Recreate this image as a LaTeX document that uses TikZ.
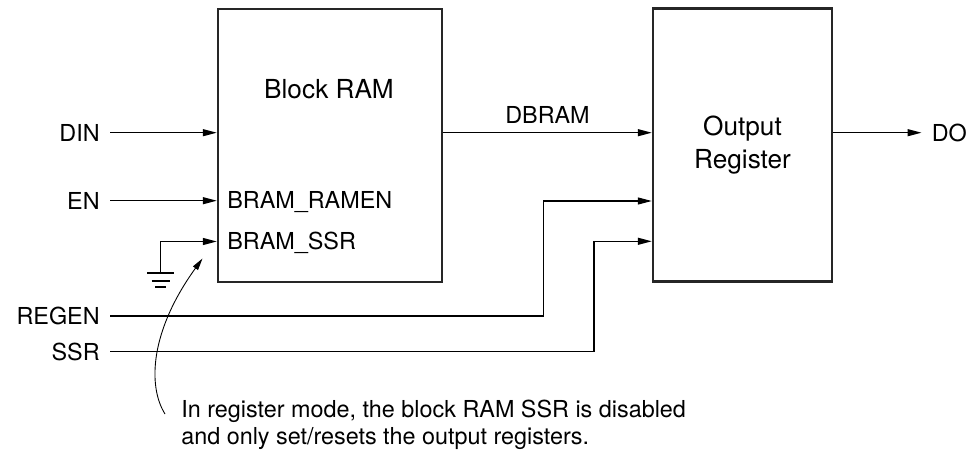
\documentclass[tikz,border=0pt]{standalone}
\usepackage{fontspec}
\setmainfont{TeX Gyre Heros}
\usetikzlibrary{arrows.meta, positioning, calc}

\begin{document}
\begin{tikzpicture}[
    txt/.style={font=\fontsize{13.3}{15.4}\selectfont},
    title/.style={font=\fontsize{14.9}{18.8}\selectfont},
    block/.style={rectangle, draw=black!85, line width=1.4pt, minimum width=4.48cm, minimum height=5.46cm, txt},
    pin/.style={txt, inner xsep=0.2cm, inner ysep=0pt},
    arrow/.style={-{Triangle[length=0.28cm, width=0.14cm]}, line width=0.7pt},
    note/.style={-{Triangle[length=0.24cm, width=0.12cm]}, line width=0.5pt},
]
\useasboundingbox (0,0) rectangle (19.58,9.12);

% Blocks
\node[block] (bram) at (6.6, 6.21) {};
\node[block, minimum width=3.58cm, align=center, title] (outreg) at (14.85, 6.22) {Output\\Register};
\node[title] (bramtitle) at (6.58, 7.34) {Block RAM};

% Port names inside the block RAM
\node[txt, anchor=base west, inner sep=0pt] (ramen) at (4.54, 4.94) {BRAM\_RAMEN};
\node[txt, anchor=base west, inner sep=0pt] (bramssr) at (4.54, 4.12) {BRAM\_SSR};

% Signals
\node[pin, anchor=east] (din) at (2.2, 6.466) {DIN};
\node[pin, anchor=east] (en) at (2.2, 5.106) {EN};
\node[pin, anchor=east] (regen) at (2.2, 2.8) {REGEN};
\node[pin, anchor=east] (ssr) at (2.2, 2.086) {SSR};
\node[pin, anchor=west] (do) at (18.43, 6.466) {DO};

% Pin points
\coordinate (ssrpin) at ($(bram.west)+(0,-1.92)$);
\coordinate (gnd) at (3.214, 3.666);
\coordinate (regenup) at (10.87, 5.1);
\coordinate (ssrup) at (11.88, 4.294);

% Connections
\draw[arrow] (din) -- (din -| bram.west);
\draw[arrow] (en) -- (en -| bram.west);
\draw[arrow] (gnd) |- (ssrpin);
\draw[arrow] (bram.east |- din) -- node[midway, above=0.17cm, txt, inner sep=0pt] {DBRAM} (outreg.west |- din);
\draw[arrow] (outreg.east |- do) -- (do);
\draw[arrow] (regen) -| (regenup) -- (regenup -| outreg.west);
\draw[arrow] (ssr) -| (ssrup) -- (ssrup -| outreg.west);

% Ground
\draw[line width=1.2pt] ($(gnd)+(-0.27,0)$) -- ($(gnd)+(0.27,0)$);
\draw[line width=1.2pt] ($(gnd)+(-0.18,-0.16)$) -- ($(gnd)+(0.18,-0.16)$);
\draw[line width=1.2pt] ($(gnd)+(-0.11,-0.29)$) -- ($(gnd)+(0.11,-0.29)$);

% Note
\node[txt, anchor=north west, align=left, inner sep=0pt] (remark) at (3.62, 1.12) {In register mode, the block RAM SSR is disabled\\and only set/resets the output registers.};
\coordinate (notetail) at (3.3, 0.84);
\coordinate (notetip) at (4.05, 3.95);
\draw[note] (notetail) .. controls (2.95,1.4) and (3.0,2.5) .. (notetip);

\end{tikzpicture}
\end{document}
